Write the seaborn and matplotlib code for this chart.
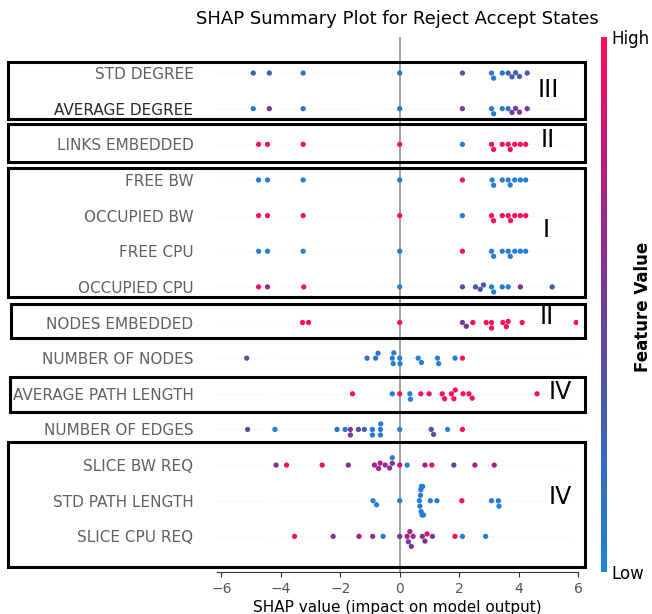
import numpy as np
import pandas as pd
import matplotlib
matplotlib.use("Agg")
import matplotlib.pyplot as plt
import seaborn as sns
from matplotlib.colors import LinearSegmentedColormap, Normalize
from matplotlib.patches import Rectangle

# feature order, top to bottom
features = ["STD DEGREE", "AVERAGE DEGREE", "LINKS EMBEDDED", "FREE BW", "OCCUPIED BW",
            "FREE CPU", "OCCUPIED CPU", "NODES EMBEDDED", "NUMBER OF NODES",
            "AVERAGE PATH LENGTH", "NUMBER OF EDGES", "SLICE BW REQ", "STD PATH LENGTH",
            "SLICE CPU REQ"]

# shap values and (normalised) feature values per feature
std_degree_shap = [-4.93, -4.39, -3.25, 0.0, 2.11, 3.09, 3.45, 4.03, 4.29, 3.16, 3.65, 3.90, 3.78]
std_degree_val = [0.3, 0.3, 0.1, 0.1, 0.4, 0.1, 0.1, 0.3, 0.3, 0.1, 0.3, 0.3, 0.3]

avg_degree_shap = [-4.93, -4.39, -3.25, 0.0, 2.11, 3.09, 3.45, 3.90, 4.29, 3.16, 3.65, 4.03, 3.78]
avg_degree_val = [0.1, 0.5, 0.1, 0.1, 0.5, 0.1, 0.1, 0.5, 0.5, 0.1, 0.1, 0.5, 0.5]

links_emb_shap = [-4.75, -4.45, -3.25, 0.0, 2.11, 3.09, 3.45, 3.72, 3.87, 4.24, 3.16, 3.65, 4.06]
links_emb_val = [1.0, 1.0, 1.0, 1.0, 0.05, 1.0, 1.0, 1.0, 1.0, 1.0, 1.0, 1.0, 1.0]

free_bw_shap = [-4.75, -4.45, -3.25, 0.0, 2.11, 3.11, 3.45, 3.65, 4.06, 4.24, 3.16, 3.72, 3.87]
free_bw_val = [0.05, 0.05, 0.05, 0.05, 1.0, 0.05, 0.05, 0.05, 0.05, 0.05, 0.05, 0.05, 0.05]

occ_bw_shap = [-4.75, -4.45, -3.25, 0.0, 2.11, 3.09, 3.45, 3.65, 3.87, 4.24, 3.16, 3.73, 4.06]
occ_bw_val = [1.0, 1.0, 1.0, 1.0, 0.05, 1.0, 1.0, 1.0, 1.0, 1.0, 1.0, 1.0, 1.0]

free_cpu_shap = [-4.75, -4.45, -3.25, 0.0, 2.11, 3.09, 3.45, 3.65, 4.06, 4.24, 3.16, 3.72, 3.87]
free_cpu_val = [0.05, 0.05, 0.05, 0.05, 1.0, 0.05, 0.05, 0.05, 0.05, 0.05, 0.05, 0.05, 0.05]

occ_cpu_shap = [-4.75, -4.45, -3.23, 0.0, 2.11, 2.71, 2.82, 3.45, 3.65, 4.06, 5.13, 2.55, 3.09, 3.16]
occ_cpu_val = [1.0, 0.65, 1.0, 0.05, 0.4, 0.35, 0.35, 0.05, 0.05, 0.6, 0.35, 0.35, 0.05, 0.05]

nodes_emb_shap = [-3.27, -3.07, 0.0, 2.11, 2.24, 2.46, 3.09, 3.47, 3.59, 4.12, 5.94, 2.91, 3.09, 3.65]
nodes_emb_val = [1.0, 1.0, 1.0, 0.5, 0.5, 1.0, 1.0, 1.0, 1.0, 1.0, 1.0, 1.0, 1.0, 1.0]

num_nodes_shap = [-5.15, -1.10, -0.81, -0.22, 0.0, 0.73, 1.27, 1.86, 2.11, -0.73, -0.20, 0.01, 0.62, 1.31, -0.25]
num_nodes_val = [0.4, 0.15, 0.15, 0.05, 0.05, 0.05, 0.05, 0.05, 1.0, 0.1, 0.05, 0.05, 0.05, 0.05, 0.05]

avg_path_shap = [-1.59, -0.25, 0.0, 0.34, 0.71, 0.99, 1.43, 1.51, 1.74, 1.82, 2.13, 2.33, 2.44, 4.62, 0.36, 1.87]
avg_path_val = [1.0, 0.05, 1.0, 0.05, 1.0, 1.0, 1.0, 1.0, 1.0, 1.0, 1.0, 1.0, 1.0, 1.0, 0.05, 1.0]

num_edges_shap = [-5.12, -4.20, -2.11, -1.84, -1.66, -1.39, -1.19, -0.92, -0.65, 0.0, 1.06, 1.14, 1.61, 2.11,
                  -1.66, -0.92, -0.65, -0.64]
num_edges_val = [0.4, 0.05, 0.1, 0.1, 0.5, 0.45, 0.3, 0.1, 0.05, 0.05, 0.35, 0.35, 0.05, 1.0,
                 0.5, 0.1, 0.05, 0.05]

slice_bw_shap = [-4.16, -3.81, -2.61, -1.73, -0.85, -0.71, -0.49, -0.34, -0.25, 0.0, 0.25, 0.85, 1.08, 1.82,
                 2.53, 3.18, -0.66, -0.25]
slice_bw_val = [0.55, 1.0, 0.9, 0.6, 0.65, 0.7, 0.6, 0.6, 0.55, 0.85, 0.05, 0.7, 0.95, 0.45,
                0.75, 0.7, 0.75, 0.05]

std_path_shap = [-0.90, -0.78, 0.0, 0.66, 0.68, 0.70, 0.71, 0.72, 0.73, 0.75, 0.77, 0.80, 1.03, 1.25,
                 2.09, 3.09, 3.32, 3.34]
std_path_val = [0.05, 0.05, 0.05, 0.05, 0.05, 0.05, 0.05, 0.05, 0.05, 0.05, 0.05, 0.05, 0.05, 0.05,
                1.0, 0.05, 0.05, 0.05]

slice_cpu_shap = [-3.54, -2.24, -1.37, -0.91, -0.56, 0.0, 0.25, 0.34, 0.45, 0.76, 0.85, 1.10, 1.86, 2.11,
                  2.89, 0.29, 0.39, 0.92]
slice_cpu_val = [1.0, 0.5, 0.7, 0.65, 0.05, 0.55, 0.7, 0.7, 0.6, 0.55, 0.55, 0.5, 1.0, 0.05,
                 0.05, 0.5, 0.5, 1.0]

shap_lists = [std_degree_shap, avg_degree_shap, links_emb_shap, free_bw_shap, occ_bw_shap,
              free_cpu_shap, occ_cpu_shap, nodes_emb_shap, num_nodes_shap, avg_path_shap,
              num_edges_shap, slice_bw_shap, std_path_shap, slice_cpu_shap]
val_lists = [std_degree_val, avg_degree_val, links_emb_val, free_bw_val, occ_bw_val,
             free_cpu_val, occ_cpu_val, nodes_emb_val, num_nodes_val, avg_path_val,
             num_edges_val, slice_bw_val, std_path_val, slice_cpu_val]

rows = []
for name, s, v in zip(features, shap_lists, val_lists):
    for a, b in zip(s, v):
        rows.append((name, a, b))
df = pd.DataFrame(rows, columns=["feature", "shap", "value"])

# shap-like red/blue colormap
cmap = LinearSegmentedColormap.from_list(
    "redblue", [(0, "#1e84de"), (0.35, "#4a56aa"), (0.55, "#7e3396"), (0.8, "#c4157e"), (1, "#ff0d57")])

fig = plt.figure(figsize=(6.52, 6.14), dpi=100)
ax = fig.add_axes([217 / 652, 42 / 614, 361 / 652, 534.6 / 614])

for i in range(len(features)):
    ax.axhline(i, color="#cccccc", lw=0.5, dashes=(1, 5), zorder=-1)
ax.axvline(0, color="#999999", lw=1.3, zorder=-1)

sns.swarmplot(data=df, x="shap", y="feature", hue="value", order=features, palette=cmap,
              hue_norm=(0, 1), size=3.8, linewidth=0, legend=False, ax=ax)

ax.set_xlim(-6.15, 6.0)
ax.set_ylim(14, -1)
ax.set_xticks([-6, -4, -2, 0, 2, 4, 6])
ax.set_ylabel("")
ax.set_xlabel("SHAP value (impact on model output)", fontsize=11, labelpad=3)
for sp in ["top", "right", "left"]:
    ax.spines[sp].set_visible(False)
ax.spines["bottom"].set_color("#333333")
ax.tick_params(axis="x", labelsize=10, colors="#333333", labelcolor="#555555")
ax.tick_params(axis="y", length=0, pad=17, labelsize=11, labelcolor="#606060")
for lab in ax.get_yticklabels():
    if lab.get_text() == "AVERAGE DEGREE":
        lab.set_color("#2a2a2a")
ax.set_title("SHAP Summary Plot for Reject Accept States", fontsize=13, pad=10)

# grouping boxes
boxes = [(-13.18, -0.31, 1.29), (-13.18, 1.43, 2.50), (-13.18, 2.66, 6.28),
         (-13.08, 6.48, 7.43), (-13.11, 8.53, 9.51), (-13.18, 10.35, 13.86)]
for x0, y0, y1 in boxes:
    ax.add_patch(Rectangle((x0, y0), 6.24 - x0, y1 - y0, fill=False, ec="black", lw=2.2,
                           clip_on=False, zorder=5))

groups = [("III", 4.99, 0.48), ("II", 4.99, 1.88), ("I", 4.94, 4.40),
          ("II", 4.96, 6.84), ("IV", 5.40, 8.95), ("IV", 5.40, 11.90)]
for t, x, y in groups:
    ax.text(x, y, t, fontsize=17, ha="center", va="center", clip_on=False)

# colorbar
cax = fig.add_axes([601 / 652, 42 / 614, 6 / 652, 534.6 / 614])
sm = plt.cm.ScalarMappable(cmap=cmap, norm=Normalize(0, 1))
cb = fig.colorbar(sm, cax=cax, ticks=[0, 1])
cb.set_ticklabels(["Low", "High"])
cb.ax.tick_params(labelsize=12, length=0)
cb.outline.set_visible(False)
fig.text(643 / 652, 0.5, "Feature Value", rotation=90, ha="center", va="center",
         fontsize=12, fontweight="bold")

fig.savefig("out.png", dpi=100)
